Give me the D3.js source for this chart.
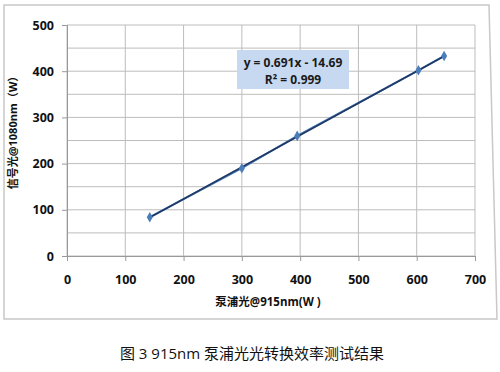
<!DOCTYPE html>
<html>
<head>
<meta charset="utf-8">
<script src="https://cdn.jsdelivr.net/npm/d3@7"></script>
<style>
  body { margin: 0; background: #fff; }
  text { font-family: "Open Sans", "Noto Sans CJK SC", sans-serif; }
</style>
</head>
<body>
<div class="chart"></div>
<script>
// pump power (W) vs signal power (W)
var pumpPower = [142, 300, 395, 603, 647];
var signalPower = [84, 190, 260, 402, 433];
var xTicks = [0, 100, 200, 300, 400, 500, 600, 700];
var yTicks = [0, 100, 200, 300, 400, 500];
var yGrid = [0, 50, 100, 150, 200, 250, 300, 350, 400, 450, 500];
var fitSlope = 0.691, fitIntercept = -14.69;
var fitLabel = ["y = 0.691x - 14.69", "R² = 0.999"];

var svg = d3.select(".chart").append("svg")
    .attr("width", 500)
    .attr("height", 372);

// outer chart frame
svg.append("path")
    .attr("d", "M4,5 L489,5 L497,319 L4,319 Z")
    .attr("fill", "none")
    .attr("stroke", "#c8c8c8")
    .attr("stroke-width", 1.5);

var x = d3.scaleLinear().domain([0, 700]).range([67, 475]);
var y = d3.scaleLinear().domain([0, 500]).range([256, 25]);

var g = svg.append("g");

g.selectAll(".hgrid").data(yGrid).enter().append("line")
    .attr("x1", x(0)).attr("x2", x(700))
    .attr("y1", function(d) { return y(d); })
    .attr("y2", function(d) { return y(d); })
    .attr("stroke", "#bdbdbd").attr("stroke-width", 1);

g.selectAll(".vgrid").data(xTicks).enter().append("line")
    .attr("y1", y(0)).attr("y2", y(500))
    .attr("x1", function(d) { return x(d); })
    .attr("x2", function(d) { return x(d); })
    .attr("stroke", "#bdbdbd").attr("stroke-width", 1);

// axes
var yAxis = d3.axisLeft(y).tickValues(yTicks).tickSize(5).tickPadding(8);
var xAxis = d3.axisBottom(x).tickValues(xTicks).tickSize(5).tickPadding(14);

var ya = svg.append("g").attr("transform", "translate(" + x(0) + ",0)").call(yAxis);
var xa = svg.append("g").attr("transform", "translate(0," + y(0) + ")").call(xAxis);

[ya, xa].forEach(function(a) {
    a.select(".domain").attr("stroke", "#999");
    a.selectAll(".tick line").attr("stroke", "#999");
    a.selectAll(".tick text")
        .attr("font-family", "'Open Sans', sans-serif")
        .attr("font-weight", "bold")
        .attr("font-size", 12.5)
        .attr("fill", "#111");
});

// data line + markers
var line = d3.line()
    .x(function(d, i) { return x(pumpPower[i]); })
    .y(function(d) { return y(d); });

svg.append("path")
    .attr("d", line(signalPower))
    .attr("fill", "none")
    .attr("stroke", "#4a7ebb")
    .attr("stroke-width", 2);

// linear trendline
var fitX = [pumpPower[0], pumpPower[pumpPower.length - 1]];
svg.append("line")
    .attr("x1", x(fitX[0])).attr("y1", y(fitSlope * fitX[0] + fitIntercept))
    .attr("x2", x(fitX[1])).attr("y2", y(fitSlope * fitX[1] + fitIntercept))
    .attr("stroke", "#1f3864")
    .attr("stroke-width", 1.6);

svg.selectAll(".pt").data(signalPower).enter().append("path")
    .attr("d", d3.symbol().type(d3.symbolDiamond).size(32))
    .attr("transform", function(d, i) { return "translate(" + x(pumpPower[i]) + "," + y(d) + ")"; })
    .attr("fill", "#4a7ebb");

// equation label
svg.append("rect")
    .attr("x", 237).attr("y", 50)
    .attr("width", 112).attr("height", 39)
    .attr("fill", "#c6d9f1");

svg.selectAll(".eq").data(fitLabel).enter().append("text")
    .attr("x", 293)
    .attr("y", function(d, i) { return 67 + i * 17; })
    .attr("text-anchor", "middle")
    .attr("font-weight", "bold")
    .attr("font-size", 12)
    .attr("fill", "#1a1a1a")
    .text(function(d) { return d; });

// axis titles
svg.append("text")
    .attr("transform", "translate(17,130) rotate(-90)")
    .attr("text-anchor", "middle")
    .attr("font-weight", "bold")
    .attr("font-size", 11)
    .attr("fill", "#111")
    .text("信号光@1080nm（W）");

svg.append("text")
    .attr("x", 268).attr("y", 306)
    .attr("text-anchor", "middle")
    .attr("font-weight", "bold")
    .attr("font-size", 11.5)
    .attr("fill", "#111")
    .text("泵浦光@915nm(W )");

// caption
svg.append("text")
    .attr("x", 252).attr("y", 359)
    .attr("text-anchor", "middle")
    .attr("font-family", "'Noto Sans CJK SC', sans-serif")
    .attr("font-size", 15)
    .attr("fill", "#111")
    .text("图 3 915nm 泵浦光光转换效率测试结果");
</script>
</body>
</html>
